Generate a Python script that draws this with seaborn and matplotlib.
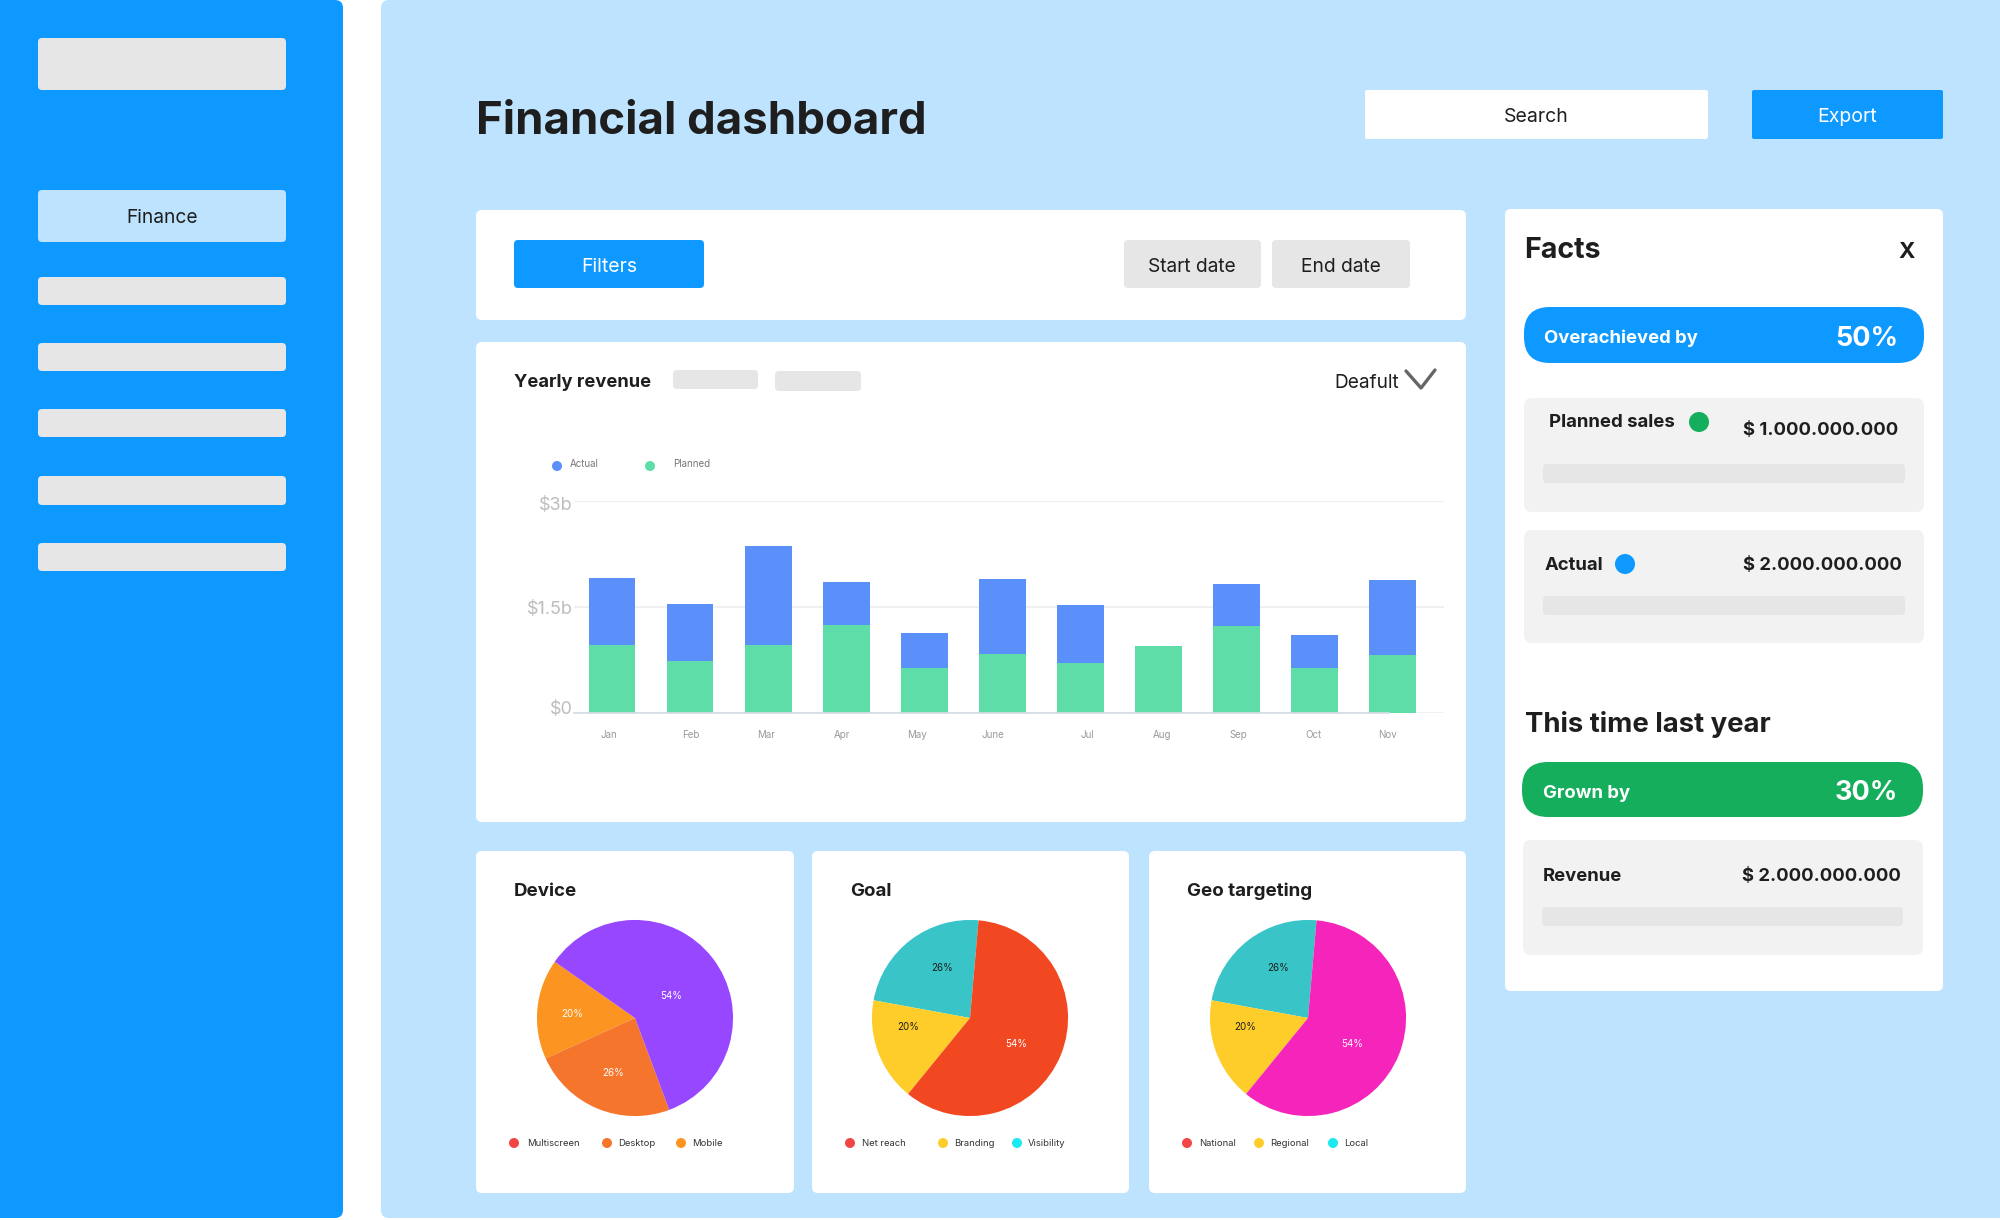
import matplotlib
matplotlib.use("Agg")
import matplotlib.pyplot as plt
import seaborn as sns
import pandas as pd
from matplotlib.patches import FancyBboxPatch, Circle
from matplotlib.transforms import ScaledTranslation

# chart values
months = ["Jan", "Feb", "Mar", "Apr", "May", "June", "Jul", "Aug", "Sep", "Oct", "Nov"]
actual = [1.91, 1.54, 2.37, 1.85, 1.13, 1.89, 1.53, 0.95, 1.83, 1.11, 1.88]
planned = [0.96, 0.73, 0.96, 1.25, 0.63, 0.83, 0.71, 0.95, 1.23, 0.63, 0.82]
revenue_ticks = [0, 1.5, 3]
revenue_tick_labels = ["$0", "$1.5b", "$3b"]

device_shares = [16.5, 23.9, 59.6]
goal_shares = [23.5, 17.0, 59.5]
geo_shares = [23.5, 17.0, 59.5]
pie_labels_device = ["20%", "26%", "54%"]
pie_labels_goal = ["26%", "20%", "54%"]
pie_labels_geo = ["26%", "20%", "54%"]

device_legend = ["Multiscreen", "Desktop", "Mobile"]
goal_legend = ["Net reach", "Branding", "Visibility"]
geo_legend = ["National", "Regional", "Local"]

BLUE = "#0D99FF"
SKY = "#BDE3FF"
GREY = "#E6E6E6"
PALE = "#F2F2F2"
GREEN = "#14AE5C"
INK = "#1E1E1E"
BAR_BLUE = "#5B8FF9"
BAR_GREEN = "#5FDDA8"

sns.set_theme(style="white")
plt.rcParams["font.family"] = ["Inter", "DejaVu Sans"]

W, H = 2000, 1220
fig = plt.figure(figsize=(W / 100, H / 100), dpi=100, facecolor="white")


def px_axes(z):
    a = fig.add_axes([0, 0, 1, 1], zorder=z)
    a.set_xlim(0, W)
    a.set_ylim(H, 0)
    a.axis("off")
    a.patch.set_alpha(0)
    return a


ui = px_axes(0)
over = px_axes(5)


def box(x0, y0, x1, y1, color, r=4):
    ui.add_patch(FancyBboxPatch((x0, y0), x1 - x0, y1 - y0, boxstyle=f"round,pad=0,rounding_size={r}",
                                fc=color, ec="none"))


def dot(x, y, r, color):
    ui.add_patch(Circle((x, y), r, fc=color, ec="none"))


def label(x, y, s, size, color=INK, weight="normal", ha="left"):
    # big text sits a little lower than matplotlib's centre
    if size >= 13:
        y += 2.5
    over.text(x, y, s, fontsize=size, color=color, fontweight=weight, ha=ha, va="center")


# background and sidebar
box(381, 0, 2020, 1218, SKY, r=8)
box(-20, 0, 343, 1218, BLUE, r=8)
box(38, 38, 286, 90, GREY)
box(38, 190, 286, 242, SKY)
label(162, 215.5, "Finance", 13.8, ha="center")
for y0, y1 in [(277, 305), (343, 371), (409, 437), (476, 505), (543, 571)]:
    box(38, y0, 286, y1, GREY)

# header
label(476, 119, "Financial dashboard", 32.8, weight="bold")
box(1365, 90, 1708, 139, "white", r=2)
label(1536, 115, "Search", 14, ha="center")
box(1752, 90, 1943, 139, BLUE, r=2)
label(1847, 115, "Export", 14, color="white", ha="center")

# filter bar
box(476, 210, 1466, 320, "white", r=6)
box(514, 240, 704, 288, BLUE)
label(609, 265, "Filters", 14, color="white", ha="center")
box(1124, 240, 1261, 288, GREY)
label(1192, 265, "Start date", 13.8, ha="center")
box(1272, 240, 1410, 288, GREY)
label(1341, 265, "End date", 13.8, ha="center")

# revenue card
box(476, 342, 1466, 822, "white", r=6)
label(514, 380, "Yearly revenue", 13.2, weight="bold")
box(673, 370, 758, 389, GREY)
box(775, 371, 861, 391, GREY)
label(1334, 381, "Deafult", 13.7)
over.plot([1406, 1421, 1435], [371, 388, 370], color="#666666", lw=2.4)
dot(557, 466, 5, BAR_BLUE)
label(570, 464, "Actual", 7, color="#777777")
dot(650, 466, 5, BAR_GREEN)
label(673, 464, "Planned", 7, color="#777777")

df = pd.DataFrame({"month": months, "actual": actual, "planned": planned})
ax = fig.add_axes([574 / W, 1 - 713 / H, (1444 - 574) / W, (713 - 501) / H], zorder=2)
ax.patch.set_alpha(0)
sns.barplot(data=df, x="month", y="actual", color=BAR_BLUE, saturation=1, width=0.6, linewidth=0, ax=ax)
sns.barplot(data=df, x="month", y="planned", color=BAR_GREEN, saturation=1, width=0.6, linewidth=0, ax=ax)
# month labels in the picture do not sit exactly under the bars
month_label_px = [609, 691, 766, 842, 917, 993, 1087, 1162, 1238, 1314, 1388]
ax.set_xticks([(p - 612) / 78.06 for p in month_label_px], months)
ax.set_xlim(-0.487, 10.66)
ax.set_ylim(0, 3)
ax.set_xlabel("")
ax.set_ylabel("")
ax.set_yticks(revenue_ticks, revenue_tick_labels)
ax.tick_params(axis="y", length=0, pad=1, labelsize=13, labelcolor="#BDBDBD")
ax.tick_params(axis="x", length=0, pad=12, labelsize=7, labelcolor="#999999")
for lbl, dy in zip(ax.get_yticklabels(), [5, -1, -2]):
    lbl.set_transform(lbl.get_transform() + ScaledTranslation(0, dy / 100, fig.dpi_scale_trans))
ax.yaxis.grid(True, color="#EEEEEE", lw=1.2)
ax.set_axisbelow(True)
sns.despine(ax=ax, left=True, top=True, right=True)
ax.spines["bottom"].set_color("#D5DCE3")
ax.spines["bottom"].set_bounds(-0.487, 9.96)


# pie cards
def pie_card(x0, x1, title, cx, shares, colors, start, texts, text_xy, text_colors, legend, legend_colors, legend_x):
    box(x0, 851, x1, 1193, "white", r=6)
    label(x0 + 38, 889, title, 13.5, weight="bold")
    p = fig.add_axes([(cx - 100) / W, 1 - (1018 + 100) / H, 200 / W, 200 / H], zorder=2)
    p.pie(shares, colors=colors, startangle=start, counterclock=True, radius=1, wedgeprops={"linewidth": 0})
    p.set_xlim(-1.02, 1.02)
    p.set_ylim(-1.02, 1.02)
    for s, (tx, ty), c in zip(texts, text_xy, text_colors):
        label(tx, ty, s, 7, color=c, ha="center")
    for name, c, (dx, tx) in zip(legend, legend_colors, legend_x):
        dot(dx, 1143, 5, c)
        label(tx, 1143.5, name, 6.8, color="#333333")


pie_card(476, 794, "Device", 635, device_shares, ["#FB9420", "#F5752D", "#9747FF"], 145,
         pie_labels_device, [(572, 1014), (613, 1073), (671, 996)], ["white"] * 3,
         device_legend, ["#F24545", "#F5752D", "#FB9420"], [(514, 527), (607, 618), (681, 692)])
pie_card(812, 1129, "Goal", 970, goal_shares, ["#39C5C8", "#FFCD29", "#F24822"], 85,
         pie_labels_goal, [(942, 968), (908, 1027), (1016, 1044)], [INK, INK, "white"],
         goal_legend, ["#F24545", "#FFCD29", "#1CE8F0"], [(850, 862), (943, 954), (1017, 1028)])
pie_card(1149, 1466, "Geo targeting", 1308, geo_shares, ["#39C5C8", "#FFCD29", "#F524BA"], 85,
         pie_labels_geo, [(1278, 968), (1245, 1027), (1352, 1044)], [INK, INK, "white"],
         geo_legend, ["#F24545", "#FFCD29", "#1CE8F0"], [(1187, 1199), (1259, 1270), (1333, 1344)])

# facts column
box(1505, 209, 1943, 991, "white", r=6)
label(1524, 248, "Facts", 20.6, weight="bold")
label(1907, 249, "X", 16, weight="bold", ha="center")
box(1524, 307, 1924, 363, BLUE, r=26)
label(1544, 336, "Overachieved by", 13.3, color="white", weight="bold")
label(1898, 336, "50%", 19.5, color="white", weight="bold", ha="right")
box(1524, 398, 1924, 512, PALE, r=8)
label(1549, 420, "Planned sales", 13.4, weight="bold")
dot(1699, 422, 10, GREEN)
label(1743, 428, "$ 1.000.000.000", 13.3, weight="bold")
box(1543, 464, 1905, 483, GREY)
box(1524, 530, 1924, 643, PALE, r=8)
label(1545, 563, "Actual", 13.3, weight="bold")
dot(1625, 564, 10, BLUE)
label(1743, 563, "$ 2.000.000.000", 13.3, weight="bold")
box(1543, 596, 1905, 615, GREY)
label(1525, 722, "This time last year", 19.8, weight="bold")
box(1522, 762, 1923, 817, GREEN, r=26)
label(1543, 791, "Grown by", 13.3, color="white", weight="bold")
label(1898, 791, "30%", 19.5, color="white", weight="bold", ha="right")
box(1523, 840, 1923, 955, PALE, r=8)
label(1543, 874, "Revenue", 13.3, weight="bold")
label(1742, 874, "$ 2.000.000.000", 13.3, weight="bold")
box(1542, 907, 1903, 926, GREY)

fig.savefig("out.png", dpi=100)
